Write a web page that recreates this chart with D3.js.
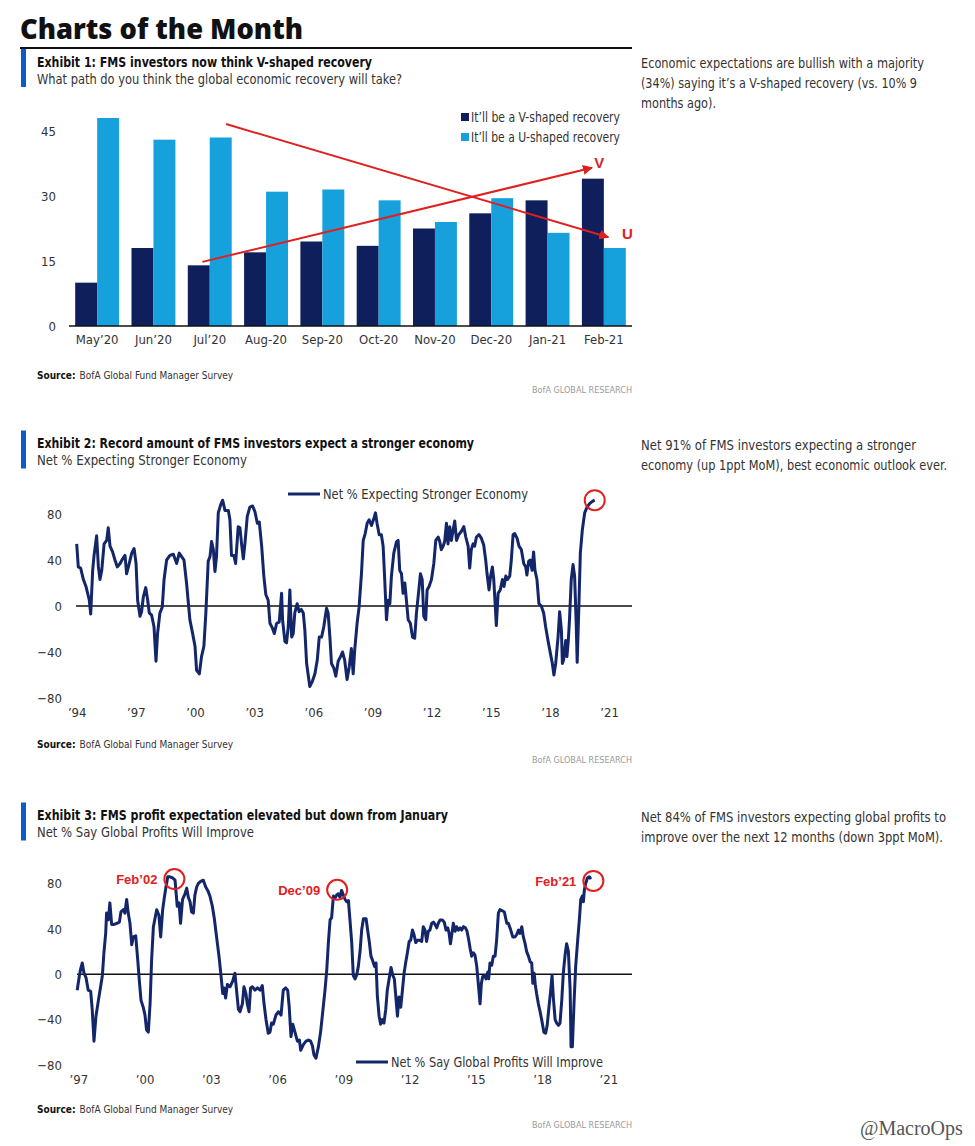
<!DOCTYPE html>
<html>
<head>
<meta charset="utf-8">
<script src="https://cdn.jsdelivr.net/npm/d3@7"></script>
<style>
  body { margin: 0; background: #fff; }
  svg { display: block; }
</style>
</head>
<body>
<svg id="chart"></svg>
<script>
// ---- Exhibit 1: V vs U shaped recovery (% of respondents)
const months = ["May’20", "Jun’20", "Jul’20", "Aug-20", "Sep-20", "Oct-20", "Nov-20", "Dec-20", "Jan-21", "Feb-21"];
const vShaped = [10, 18, 14, 17, 19.5, 18.5, 22.5, 26, 29, 34];
const uShaped = [48, 43, 43.5, 31, 31.5, 29, 24, 29.5, 21.5, 18];
const barTicks = [0, 15, 30, 45];
// trend arrows: [month, position inside the month band, value]
const arrowFrom = [["Jul’20", 0.68, 46.6], ["Jul’20", 0.26, 14.8]];
const arrowTo = [["Feb-21", 0.47, 20.5], ["Feb-21", 0.18, 36.5]];
const arrowLabels = ["U", "V"];
const arrowLabelAt = [["Feb-21", 0.81, 21.2], ["Feb-21", 0.31, 37.6]];

// ---- Exhibit 2: Net % expecting stronger economy (years after Jan '94)
const econT = [0.00,0.08,0.20,0.34,0.47,0.64,0.71,0.81,0.88,1.01,1.10,1.18,1.27,1.39,1.52,1.60,1.69,1.82,1.94,2.06,
  2.20,2.33,2.45,2.53,2.65,2.79,2.91,3.01,3.09,3.21,3.29,3.38,3.50,3.60,3.68,3.80,3.92,4.02,4.10,4.22,
  4.34,4.43,4.56,4.73,4.90,5.07,5.20,5.32,5.44,5.57,5.74,5.88,6.00,6.08,6.22,6.33,6.45,6.55,6.67,6.76,
  6.84,6.93,7.01,7.09,7.18,7.30,7.40,7.52,7.69,7.77,7.85,7.97,8.06,8.19,8.28,8.36,8.45,8.53,8.65,8.78,
  8.92,9.04,9.16,9.26,9.38,9.49,9.59,9.71,9.80,9.92,10.02,10.14,10.27,10.39,10.44,10.56,10.64,10.73,10.81,10.90,
  10.98,11.06,11.18,11.28,11.39,11.49,11.57,11.66,11.74,11.82,11.94,12.08,12.20,12.30,12.42,12.53,12.67,12.75,12.84,12.92,
  13.04,13.14,13.26,13.38,13.48,13.59,13.71,13.82,13.93,14.02,14.10,14.22,14.32,14.44,14.53,14.63,14.73,14.83,14.95,15.07,
  15.15,15.23,15.34,15.45,15.54,15.62,15.71,15.79,15.88,15.96,16.08,16.22,16.30,16.38,16.47,16.55,16.64,16.72,16.81,16.92,
  17.03,17.14,17.23,17.35,17.43,17.52,17.60,17.70,17.77,17.87,17.99,18.11,18.21,18.33,18.41,18.49,18.58,18.66,18.75,18.83,
  18.92,19.00,19.09,19.17,19.26,19.37,19.51,19.63,19.73,19.85,19.93,20.01,20.10,20.18,20.27,20.40,20.52,20.64,20.74,20.81,
  20.91,20.99,21.08,21.15,21.22,21.28,21.37,21.48,21.59,21.67,21.76,21.84,21.96,22.04,22.13,22.21,22.33,22.43,22.55,22.67,
  22.77,22.83,22.92,23.00,23.09,23.17,23.24,23.34,23.44,23.56,23.68,23.78,23.90,24.02,24.12,24.20,24.29,24.41,24.49,24.58,
  24.63,24.69,24.80,24.86,24.93,24.99,25.08,25.17,25.25,25.33,25.38,25.47,25.54,25.64,25.76,25.88,26.01,26.15,26.27];
const econV = [54,34,33,23,17,5,-7,31,44,61,34,23,31,54,57,68,52,47,40,34,
  37,41,44,28,36,46,50,37,5,-9,-5,8,16,5,-6,-8,-18,-48,-24,-6,
  -1,23,40,44,45,37,46,43,40,20,-12,-24,-35,-56,-59,-44,-35,-6,39,43,
  56,49,30,43,81,88,92,83,83,75,44,44,37,69,68,54,41,54,78,86,
  87,82,72,73,52,26,10,5,-15,-19,-24,-15,-14,11,-12,-31,-32,-18,14,-27,
  -24,-6,2,-5,-3,-6,-21,-50,-60,-70,-66,-59,-47,-27,-27,-18,-2,-6,-27,-50,
  -54,-61,-48,-44,-40,-47,-64,-53,-37,-59,-38,-15,-1,28,57,63,72,75,70,76,
  81,72,62,62,52,23,-12,5,2,26,46,56,57,31,28,11,20,5,-12,-15,
  -27,-28,-6,14,28,23,-9,-12,14,17,23,37,57,60,56,49,52,56,72,54,
  69,57,66,74,57,62,65,69,60,52,33,49,54,52,60,62,59,53,40,28,
  14,26,34,23,2,-17,11,14,23,17,26,23,26,40,62,63,59,52,49,37,
  34,27,39,40,31,47,31,23,2,0,-6,-18,-30,-41,-50,-60,-50,-27,-5,-21,
  -50,-47,-30,-44,-30,-12,23,36,26,-15,-49,2,46,66,81,86,89,91,92];
const econTicks = [1994, 1997, 2000, 2003, 2006, 2009, 2012, 2015, 2018, 2021];

// ---- Exhibit 3: Net % say global profits will improve (years after Jan '97)
const profitT = [-0.05,0.05,0.11,0.18,0.26,0.35,0.45,0.56,0.63,0.71,0.80,0.91,1.01,1.09,1.16,1.24,1.28,1.36,1.43,1.51,
  1.62,1.74,1.86,1.93,2.04,2.11,2.19,2.26,2.34,2.42,2.49,2.60,2.69,2.76,2.84,2.94,3.02,3.09,3.17,3.25,
  3.32,3.40,3.47,3.55,3.65,3.73,3.82,3.89,3.97,4.05,4.15,4.27,4.38,4.48,4.56,4.63,4.72,4.83,4.91,4.98,
  5.06,5.13,5.21,5.28,5.36,5.43,5.54,5.66,5.77,5.86,5.96,6.07,6.16,6.26,6.37,6.46,6.54,6.60,6.67,6.75,
  6.87,6.99,7.09,7.17,7.25,7.32,7.43,7.50,7.59,7.65,7.73,7.80,7.88,8.00,8.11,8.23,8.33,8.41,8.50,8.60,
  8.68,8.75,8.83,8.95,9.06,9.18,9.28,9.39,9.48,9.55,9.63,9.71,9.81,9.92,10.01,10.07,10.19,10.31,10.42,10.52,
  10.60,10.67,10.76,10.87,10.97,11.09,11.17,11.25,11.32,11.40,11.47,11.55,11.62,11.70,11.77,11.85,11.92,12.00,
  12.08,12.15,12.23,12.30,12.38,12.45,12.53,12.60,12.68,12.76,12.83,12.91,13.03,13.10,13.18,13.25,13.33,13.41,13.48,13.54,
  13.62,13.69,13.77,13.84,13.92,13.99,14.09,14.16,14.24,14.31,14.39,14.45,14.52,14.60,14.67,14.75,14.82,14.90,14.98,15.05,
  15.13,15.20,15.28,15.35,15.47,15.55,15.62,15.70,15.77,15.85,15.92,16.00,16.08,16.15,16.23,16.30,16.38,16.48,16.57,16.65,
  16.73,16.79,16.85,16.91,16.98,17.06,17.13,17.21,17.29,17.36,17.44,17.53,17.60,17.68,17.74,17.81,17.89,17.96,18.04,18.11,
  18.19,18.25,18.31,18.39,18.46,18.54,18.58,18.64,18.72,18.79,18.87,18.94,19.02,19.09,19.20,19.29,19.40,19.47,19.58,19.67,
  19.77,19.85,19.93,20.00,20.08,20.15,20.23,20.30,20.38,20.46,20.53,20.58,20.64,20.69,20.75,20.83,20.91,20.98,21.08,21.16,
  21.23,21.31,21.39,21.45,21.51,21.59,21.66,21.74,21.81,21.89,21.96,22.04,22.11,22.19,22.27,22.31,22.37,22.45,22.52,22.61,
  22.69,22.75,22.82,22.87,22.91,22.97,23.05,23.14,23.21];
const profitV = [-14,-1,5,10,1,-3,-14,-15,-31,-59,-37,-23,-11,-1,19,36,54,48,63,44,
  44,45,46,55,57,54,66,54,45,26,33,34,13,-5,-23,-29,-36,-49,-51,-26,
  13,42,49,57,52,33,57,67,77,86,86,85,83,60,63,45,66,71,76,68,
  64,55,54,70,77,80,82,83,77,74,69,60,49,33,16,-1,-17,-12,-21,-9,
  -11,-6,1,-15,-31,-33,-26,-11,-17,-26,-33,-12,-11,-14,-12,-14,-10,-26,-40,-52,
  -51,-43,-44,-36,-33,-36,-14,-12,-14,-29,-55,-44,-51,-59,-58,-67,-62,-59,-58,-59,
  -63,-71,-74,-64,-51,-29,-14,4,27,48,50,69,67,70,71,68,74,70,
  66,64,65,48,28,-1,-4,-1,7,21,39,49,49,39,28,16,12,7,10,-19,
  -37,-44,-40,-43,-31,-14,-2,6,-1,-4,-23,-37,-20,-29,-15,1,10,19,29,30,
  39,35,28,30,30,29,42,39,29,38,39,45,46,44,41,45,48,48,46,39,
  41,36,27,35,45,38,42,39,41,39,42,41,38,30,23,16,19,17,7,-8,
  -26,-8,-2,-1,-4,2,-4,10,8,16,16,30,54,57,56,55,45,45,39,33,
  33,35,39,36,42,33,27,20,16,11,10,-8,1,-9,-17,-26,-33,-40,-51,-52,
  -45,-29,-14,-1,-21,-40,-43,-45,-43,-23,1,17,27,20,-14,-64,-64,-23,7,30,
  49,66,69,64,74,80,85,86,84];
const profitTicks = [1997, 2000, 2003, 2006, 2009, 2012, 2015, 2018, 2021];
const peakLabels = ["Feb’02", "Dec’09", "Feb’21"];
const peakT = [4.35, 11.72, 23.32];
const peakV = [84, 74.5, 82.4];

const lineTicks = [-80, -40, 0, 40, 80];

const NARROW = '"Liberation Sans Narrow","DejaVu Sans Condensed","Roboto Condensed",Roboto,sans-serif';
const BOLDF = '"Liberation Sans",Arial,sans-serif';
const NAVY = "#0e1f5b", SKY = "#17a1dc", LINE = "#13266a", RED = "#e0201f";

const svg = d3.select("#chart").attr("width", 975).attr("height", 1146)
    .style("font-family", NARROW);
svg.append("rect").attr("width", 975).attr("height", 1146).attr("fill", "#fff");

function fit(sel, w) {
    return sel.attr("textLength", w).attr("lengthAdjust", "spacingAndGlyphs");
}

// page title
fit(svg.append("text").attr("x", 20).attr("y", 39)
    .style("font-family", '"Open Sans",Lato,sans-serif').style("font-weight", 800)
    .style("font-size", "28px").attr("fill", "#111").text("Charts of the Month"), 283);
svg.append("line").attr("x1", 20).attr("x2", 632).attr("y1", 48).attr("y2", 48)
    .attr("stroke", "#111").attr("stroke-width", 2);

function header(y0, title, tw, sub, sw, notes) {
    svg.append("rect").attr("x", 21).attr("y", y0).attr("width", 5).attr("height", 38).attr("fill", "#0b5cc4");
    fit(svg.append("text").attr("x", 37).attr("y", y0 + 17.5).style("font-weight", "bold")
        .style("font-size", "14px").attr("fill", "#111").text(title), tw);
    fit(svg.append("text").attr("x", 37).attr("y", y0 + 34.5)
        .style("font-size", "14px").attr("fill", "#333").text(sub), sw);
    notes.forEach((n, i) => {
        fit(svg.append("text").attr("x", 641).attr("y", y0 + 19 + i * 20)
            .style("font-size", "13.5px").attr("fill", "#333").text(n[0]), n[1]);
    });
}

function source(yS, yR) {
    const t = svg.append("text").attr("x", 37).attr("y", yS).style("font-size", "10px").attr("fill", "#333");
    t.append("tspan").style("font-weight", "bold").attr("fill", "#111").text("Source:");
    t.append("tspan").attr("dx", 4).text("BofA Global Fund Manager Survey");
    svg.append("text").attr("x", 632).attr("y", yR).attr("text-anchor", "end")
        .style("font-size", "9px").attr("fill", "#9a9a9a").text("BofA GLOBAL RESEARCH");
}

header(49, "Exhibit 1: FMS investors now think V-shaped recovery", 335,
    "What path do you think the global economic recovery will take?", 365,
    [["Economic expectations are bullish with a majority", 283],
     ["(34%) saying it’s a V-shaped recovery (vs. 10% 9", 276],
     ["months ago).", 75]]);
header(430.5, "Exhibit 2: Record amount of FMS investors expect a stronger economy", 437,
    "Net % Expecting Stronger Economy", 210,
    [["Net 91% of FMS investors expecting a stronger", 275],
     ["economy (up 1ppt MoM), best economic outlook ever.", 306]]);
header(802.5, "Exhibit 3: FMS profit expectation elevated but down from January", 411,
    "Net % Say Global Profits Will Improve", 217,
    [["Net 84% of FMS investors expecting global profits to", 305],
     ["improve over the next 12 months (down 3ppt MoM).", 302]]);

// ================= Exhibit 1 =================
const x1 = d3.scaleBand().domain(months).range([69, 632]).paddingInner(0.22).paddingOuter(0.11);
const xs1 = d3.scaleBand().domain(["V", "U"]).range([0, x1.bandwidth()]);
const y1 = d3.scaleLinear().domain([0, 45]).range([326, 131]);

const g1 = svg.append("g");
g1.selectAll("rect.v").data(vShaped).join("rect")
    .attr("x", (d, i) => x1(months[i]) + xs1("V")).attr("width", xs1.bandwidth())
    .attr("y", d => y1(d)).attr("height", d => y1(0) - y1(d)).attr("fill", NAVY);
g1.selectAll("rect.u").data(uShaped).join("rect")
    .attr("x", (d, i) => x1(months[i]) + xs1("U")).attr("width", xs1.bandwidth())
    .attr("y", d => y1(d)).attr("height", d => y1(0) - y1(d)).attr("fill", SKY);
g1.append("line").attr("x1", 69).attr("x2", 632).attr("y1", y1(0)).attr("y2", y1(0))
    .attr("stroke", "#111").attr("stroke-width", 1.5);

g1.append("g").attr("transform", "translate(56,0)")
    .call(d3.axisLeft(y1).tickValues(barTicks).tickSize(0).tickPadding(0))
    .call(a => a.select(".domain").remove())
    .selectAll("text").style("font-family", NARROW).style("font-size", "13px").attr("fill", "#333");
g1.append("g").attr("transform", "translate(0,335)")
    .call(d3.axisBottom(x1).tickSize(0).tickPadding(0))
    .call(a => a.select(".domain").remove())
    .selectAll("text").style("font-family", NARROW).style("font-size", "13px").attr("fill", "#333");

// legend
[["It’ll be a V-shaped recovery", NAVY], ["It’ll be a U-shaped recovery", SKY]].forEach((l, i) => {
    g1.append("rect").attr("x", 461).attr("y", 113 + i * 20).attr("width", 8).attr("height", 8).attr("fill", l[1]);
    fit(g1.append("text").attr("x", 471).attr("y", 122 + i * 20).style("font-size", "13.5px")
        .attr("fill", "#333").text(l[0]), 149);
});

// red trend arrows
svg.append("defs").append("marker").attr("id", "head")
    .attr("viewBox", "0 0 10 10").attr("refX", 9).attr("refY", 5)
    .attr("markerWidth", 5).attr("markerHeight", 5).attr("orient", "auto")
    .append("path").attr("d", "M0,0L10,5L0,10z").attr("fill", RED);
const px = p => x1(p[0]) + p[1] * x1.step();
arrowFrom.forEach((f, i) => {
    const t = arrowTo[i];
    g1.append("line").attr("x1", px(f)).attr("y1", y1(f[2])).attr("x2", px(t)).attr("y2", y1(t[2]))
        .attr("stroke", RED).attr("stroke-width", 2).attr("marker-end", "url(#head)");
    const a = arrowLabelAt[i];
    g1.append("text").attr("x", px(a)).attr("y", y1(a[2])).attr("dy", "0.35em")
        .attr("text-anchor", "middle").style("font-family", BOLDF).style("font-weight", "bold")
        .style("font-size", "15px").attr("fill", RED).text(arrowLabels[i]);
});

source(379, 393);

// ================= line charts =================
function lineChart(o) {
    const x = d3.scaleLinear().domain(o.xDomain).range([o.x0, 632]);
    const y = d3.scaleLinear().domain([-80, 80]).range(o.yRange);
    const g = svg.append("g");
    const pts = o.t.map((t, i) => [o.start + t, o.v[i]]);

    g.append("line").attr("x1", o.zeroFrom).attr("x2", 632).attr("y1", y(0)).attr("y2", y(0))
        .attr("stroke", "#111").attr("stroke-width", 1.5);
    g.append("path").datum(pts)
        .attr("d", d3.line().x(d => x(d[0])).y(d => y(d[1])))
        .attr("fill", "none").attr("stroke", LINE).attr("stroke-width", 3)
        .attr("stroke-linejoin", "round");

    g.append("g").attr("transform", "translate(62,0)")
        .call(d3.axisLeft(y).tickValues(lineTicks).tickSize(0).tickPadding(0))
        .call(a => a.select(".domain").remove())
        .selectAll("text").style("font-family", NARROW).style("font-size", "13px").attr("fill", "#333");
    g.append("g").attr("transform", "translate(0," + o.xLabelY + ")")
        .call(d3.axisBottom(x).tickValues(o.ticks).tickSize(0).tickPadding(0)
            .tickFormat(d => "’" + String(d).slice(2)))
        .call(a => a.select(".domain").remove())
        .selectAll("text").style("font-family", NARROW).style("font-size", "13px").attr("fill", "#333");

    g.append("line").attr("x1", o.legend[0]).attr("x2", o.legend[0] + 32)
        .attr("y1", o.legend[1]).attr("y2", o.legend[1]).attr("stroke", LINE).attr("stroke-width", 3);
    fit(g.append("text").attr("x", o.legend[0] + 35).attr("y", o.legend[1] + 5)
        .style("font-size", "13.5px").attr("fill", "#333").text(o.legendText), o.legend[2]);
    return { g, x, y };
}

const c2 = lineChart({
    start: 1994, t: econT, v: econV, xDomain: [1994, 2022.16], x0: 76.7, zeroFrom: 76,
    yRange: [698, 514], ticks: econTicks, xLabelY: 708,
    legend: [288, 494, 205], legendText: "Net % Expecting Stronger Economy"
});
const last = econT.length - 1;
c2.g.append("circle").attr("cx", c2.x(1994 + econT[last])).attr("cy", c2.y(econV[last]))
    .attr("r", 10).attr("fill", "none").attr("stroke", RED).attr("stroke-width", 2);
source(748, 763);

const c3 = lineChart({
    start: 1997, t: profitT, v: profitV, xDomain: [1997, 2022.07], x0: 78.3, zeroFrom: 77,
    yRange: [1065, 883.6], ticks: profitTicks, xLabelY: 1075,
    legend: [356, 1062, 212], legendText: "Net % Say Global Profits Will Improve"
});
peakLabels.forEach((lab, i) => {
    const cx = c3.x(1997 + peakT[i]), cy = c3.y(peakV[i]);
    c3.g.append("circle").attr("cx", cx).attr("cy", cy).attr("r", 10)
        .attr("fill", "none").attr("stroke", RED).attr("stroke-width", 2);
    c3.g.append("text").attr("x", cx - 17).attr("y", cy + 5).attr("text-anchor", "end")
        .style("font-family", BOLDF).style("font-weight", "bold").style("font-size", "13px")
        .attr("fill", RED).text(lab);
});
source(1113, 1128);

svg.append("text").attr("x", 860).attr("y", 1135)
    .style("font-family", '"Liberation Serif","DejaVu Serif",serif').style("font-size", "20px")
    .attr("fill", "#555").text("@MacroOps");
</script>
</body>
</html>
